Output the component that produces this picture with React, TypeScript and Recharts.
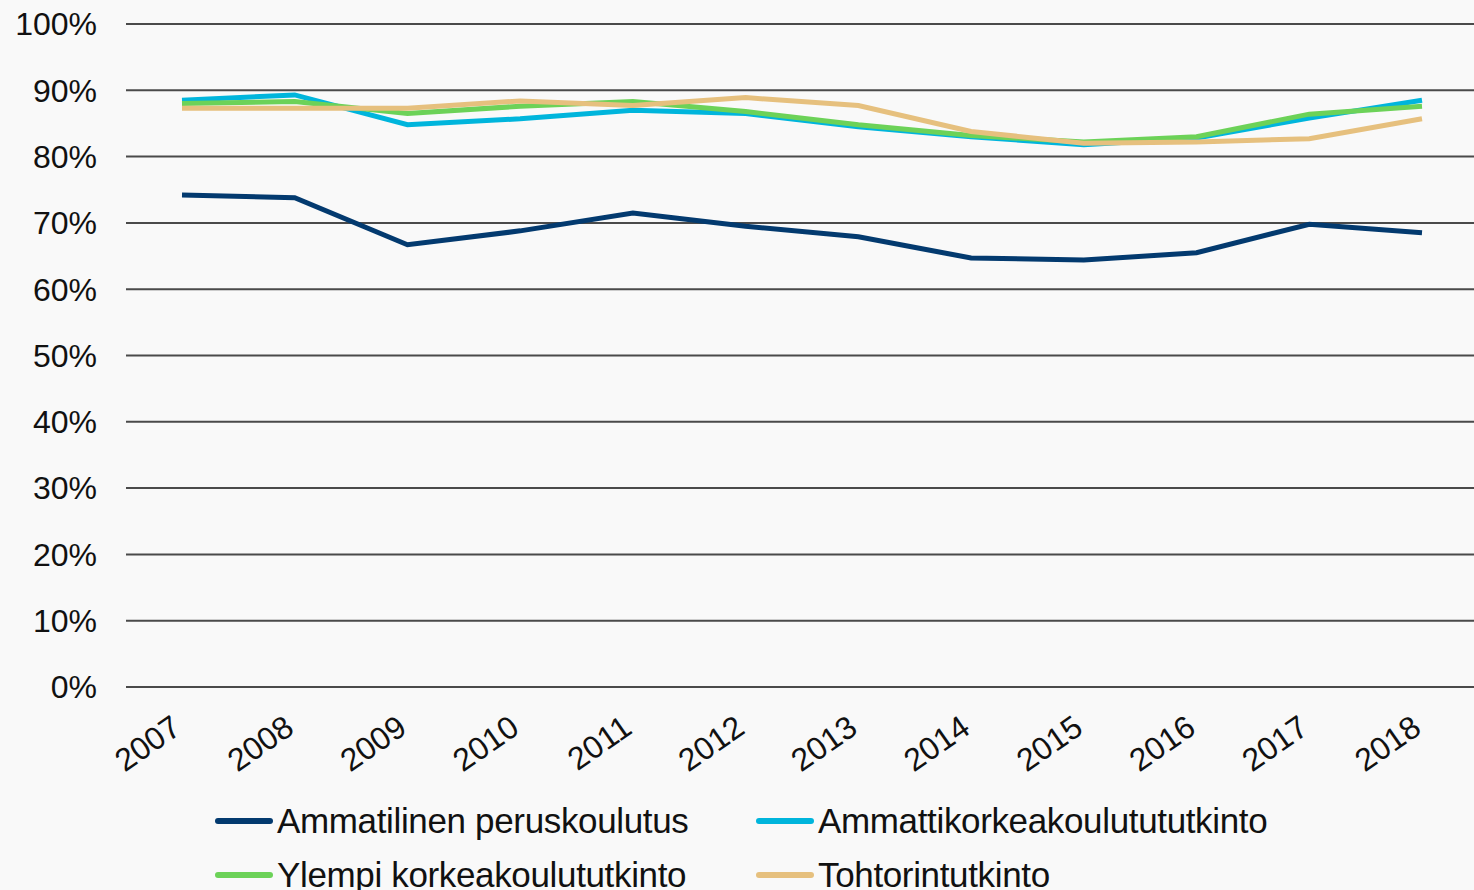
import React from 'react';
import {
  LineChart, Line, XAxis, YAxis, CartesianGrid, Legend,
} from 'recharts';

const years = ['2007', '2008', '2009', '2010', '2011', '2012', '2013', '2014', '2015', '2016', '2017', '2018'];

const ammatilinen = [74.2, 73.8, 66.7, 68.8, 71.5, 69.5, 67.9, 64.7, 64.4, 65.5, 69.8, 68.5];
const amk = [88.5, 89.3, 84.8, 85.7, 87.0, 86.5, 84.5, 83.0, 81.8, 82.8, 85.8, 88.5];
const ylempi = [88.0, 88.3, 86.5, 87.6, 88.3, 86.8, 84.8, 83.2, 82.2, 83.0, 86.4, 87.6];
const tohtori = [87.3, 87.3, 87.3, 88.4, 87.7, 88.9, 87.7, 83.8, 82.0, 82.2, 82.7, 85.7];

const yTicks = [0, 10, 20, 30, 40, 50, 60, 70, 80, 90, 100];

const series = [
  { key: 'amm', name: 'Ammatilinen peruskoulutus', color: '#033a6f', values: ammatilinen },
  { key: 'amk', name: 'Ammattikorkeakoulutututkinto', color: '#00b5dc', values: amk },
  { key: 'ylempi', name: 'Ylempi korkeakoulututkinto', color: '#6cd258', values: ylempi },
  { key: 'tohtori', name: 'Tohtorintutkinto', color: '#e6c07e', values: tohtori },
];

const data = years.map((year, i) => {
  const row: Record<string, string | number> = { year };
  series.forEach(s => { row[s.key] = s.values[i]; });
  return row;
});

const FONT = '"Liberation Sans", Arial, sans-serif';

const YearTick = (props: any) => {
  const { x, y, payload } = props;
  return (
    <text
      transform={`translate(${x + 1},${y + 45}) rotate(-35)`}
      textAnchor="end"
      fontFamily={FONT}
      fontSize={32}
      fill="#111"
    >
      {payload.value}
    </text>
  );
};

// legend laid out in two columns like the original
const legendSpots = [
  { left: 215, top: 803 },
  { left: 756, top: 803 },
  { left: 215, top: 857 },
  { left: 756, top: 857 },
];

const renderLegend = () => (
  <div style={{ position: 'relative', width: 1474, height: 890 }}>
    {series.map((s, i) => (
      <div
        key={s.key}
        style={{
          position: 'absolute',
          left: legendSpots[i].left,
          top: legendSpots[i].top,
          height: 35,
          display: 'flex',
          alignItems: 'center',
          whiteSpace: 'nowrap',
        }}
      >
        <span style={{ display: 'inline-block', width: 58, height: 6, borderRadius: 3, background: s.color }} />
        <span style={{
          marginLeft: 4, fontFamily: FONT, fontSize: 35, lineHeight: '35px',
          letterSpacing: -0.35, color: '#111',
        }}>
          {s.name}
        </span>
      </div>
    ))}
  </div>
);

export default function App() {
  return (
    <div style={{
      position: 'absolute', left: 0, top: 0, width: 1474, height: 890,
      overflow: 'hidden', background: '#f9f9f9',
    }}>
      <LineChart
        width={1478}
        height={890}
        data={data}
        margin={{ top: 24, right: 0, left: 0, bottom: 103 }}
      >
        <CartesianGrid vertical={false} stroke="#4a4a4a" strokeWidth={2} />
        <XAxis
          dataKey="year"
          axisLine={false}
          tickLine={false}
          tickSize={0}
          tickMargin={0}
          interval={0}
          height={100}
          padding={{ left: 56, right: 56 }}
          tick={<YearTick />}
        />
        <YAxis
          domain={[0, 100]}
          ticks={yTicks}
          width={126}
          axisLine={false}
          tickLine={false}
          tickSize={0}
          tickMargin={29}
          tickFormatter={(v: number) => `${v}%`}
          tick={{ fontFamily: FONT, fontSize: 32, fill: '#111' }}
        />
        {series.map(s => (
          <Line
            key={s.key}
            dataKey={s.key}
            name={s.name}
            stroke={s.color}
            strokeWidth={5}
            dot={false}
            activeDot={false}
            isAnimationActive={false}
          />
        ))}
        <Legend
          layout="horizontal"
          verticalAlign="middle"
          align="center"
          content={renderLegend}
          wrapperStyle={{ left: 0, top: 0, width: 1474, height: 890, pointerEvents: 'none' }}
        />
      </LineChart>
    </div>
  );
}
